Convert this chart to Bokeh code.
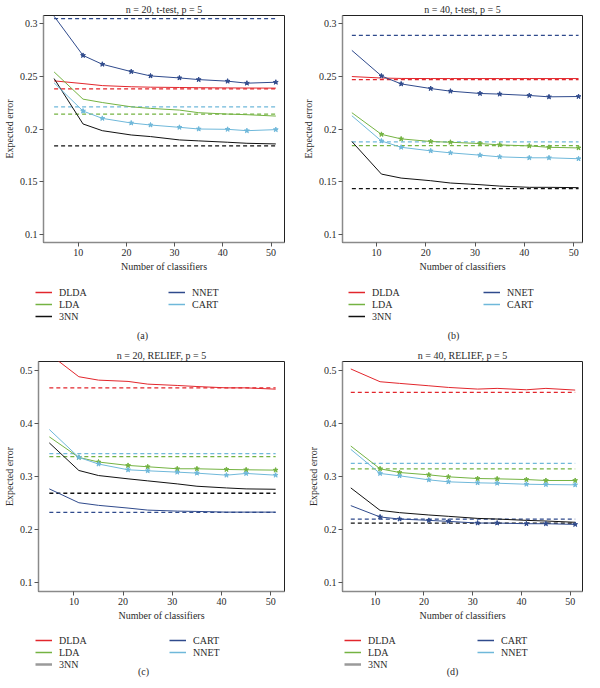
from bokeh.plotting import figure
from bokeh.models import Range1d, FixedTicker, Legend, LegendItem, Label
from bokeh.layouts import column, row
from bokeh.embed import file_html
from bokeh.resources import INLINE

# ---------------- data ----------------
X = [5, 11, 15, 21, 25, 31, 35, 41, 45, 51]

# panel (a): n = 20, t-test
A_DLDA = [0.2458, 0.2432, 0.2413, 0.2402, 0.2398, 0.2395, 0.2393, 0.2391, 0.2390, 0.2389]
A_LDA = [0.2543, 0.2284, 0.2252, 0.2211, 0.2196, 0.2180, 0.2155, 0.2142, 0.2136, 0.2123]
A_3NN = [0.2480, 0.2048, 0.1984, 0.1943, 0.1928, 0.1896, 0.1887, 0.1874, 0.1864, 0.1858]
A_NNET = [0.3073, 0.2700, 0.2616, 0.2546, 0.2505, 0.2486, 0.2470, 0.2455, 0.2436, 0.2445]
A_CART = [0.2439, 0.2171, 0.2101, 0.2057, 0.2038, 0.2016, 0.2000, 0.1997, 0.1984, 0.1994]
A_BASE = {"DLDA": 0.2382, "LDA": 0.2142, "3NN": 0.1840, "NNET": 0.3050, "CART": 0.2211}

# panel (b): n = 40, t-test
B_DLDA = [0.2499, 0.2485, 0.2481, 0.2480, 0.2480, 0.2480, 0.2480, 0.2480, 0.2480, 0.2480]
B_LDA = [0.2155, 0.1949, 0.1906, 0.1881, 0.1874, 0.1861, 0.1849, 0.1839, 0.1826, 0.1820]
B_3NN = [0.1881, 0.1571, 0.1533, 0.1508, 0.1486, 0.1470, 0.1457, 0.1445, 0.1445, 0.1442]
B_NNET = [0.2748, 0.2505, 0.2429, 0.2385, 0.2360, 0.2338, 0.2332, 0.2319, 0.2306, 0.2309]
B_CART = [0.2126, 0.1886, 0.1826, 0.1792, 0.1773, 0.1751, 0.1735, 0.1726, 0.1726, 0.1717]
B_BASE = {"DLDA": 0.2470, "LDA": 0.1842, "3NN": 0.1433, "NNET": 0.2890, "CART": 0.1877}

# panel (c): n = 20, RELIEF
C_DLDA = [0.5300, 0.4874, 0.4810, 0.4786, 0.4735, 0.4710, 0.4690, 0.4665, 0.4665, 0.4640]
C_LDA = [0.3745, 0.3359, 0.3272, 0.3208, 0.3183, 0.3145, 0.3145, 0.3132, 0.3126, 0.3120]
C_3NN = [0.3631, 0.3113, 0.3018, 0.2956, 0.2918, 0.2861, 0.2817, 0.2785, 0.2767, 0.2760]
C_CART = [0.2767, 0.2507, 0.2458, 0.2407, 0.2369, 0.2350, 0.2344, 0.2331, 0.2331, 0.2331]
C_NNET = [0.3883, 0.3359, 0.3234, 0.3126, 0.3107, 0.3082, 0.3063, 0.3025, 0.3057, 0.3025]
C_BASE = {"DLDA": 0.4665, "LDA": 0.3372, "3NN": 0.2685, "CART": 0.2325, "NNET": 0.3429}

# panel (d): n = 40, RELIEF
D_DLDA = [0.5020, 0.4780, 0.4749, 0.4704, 0.4673, 0.4642, 0.4655, 0.4629, 0.4655, 0.4623]
D_LDA = [0.3572, 0.3145, 0.3075, 0.3031, 0.2994, 0.2962, 0.2956, 0.2943, 0.2925, 0.2925]
D_3NN = [0.2786, 0.2364, 0.2321, 0.2277, 0.2252, 0.2213, 0.2201, 0.2176, 0.2164, 0.2140]
D_CART = [0.2453, 0.2240, 0.2201, 0.2176, 0.2157, 0.2126, 0.2126, 0.2113, 0.2113, 0.2100]
D_NNET = [0.3510, 0.3057, 0.3013, 0.2937, 0.2900, 0.2881, 0.2874, 0.2855, 0.2849, 0.2843]
D_BASE = {"DLDA": 0.4580, "LDA": 0.3145, "3NN": 0.2126, "CART": 0.2200, "NNET": 0.3245}

X_TICKS = [10, 20, 30, 40, 50]
Y_TICKS_T = [0.1, 0.15, 0.2, 0.25, 0.3]
Y_LABELS_T = ["0.1", "0.15", "0.2", "0.25", "0.3"]
Y_TICKS_R = [0.1, 0.2, 0.3, 0.4, 0.5]
Y_LABELS_R = ["0.1", "0.2", "0.3", "0.4", "0.5"]

TITLES = ["n = 20, t-test, p = 5", "n = 40, t-test, p = 5",
          "n = 20, RELIEF, p = 5", "n = 40, RELIEF, p = 5"]
TAGS = ["(a)", "(b)", "(c)", "(d)"]

# ---------------- style ----------------
FONT = "Liberation Serif"
TXT = "#2a2a2a"
RED = "#e2262c"
GREEN = "#74b342"
DBLUE = "#2f4a8c"
LBLUE = "#6fb8da"
BLACK = "#111111"
GRAY = "#9a9a9a"


def plot_panel(title, series, base, colors, markers, order, xr, yr,
               yticks, ylabels, height, left, right):
    p = figure(width=292, height=height, x_range=Range1d(*xr), y_range=Range1d(*yr),
               output_backend="svg", toolbar_location=None,
               min_border_left=left, min_border_right=right,
               min_border_top=0, min_border_bottom=0)
    p.background_fill_color = "white"
    p.border_fill_color = "white"
    p.outline_line_color = "#222222"
    p.outline_line_width = 1
    p.xgrid.visible = False
    p.ygrid.visible = False

    p.title.text = title
    p.title.align = "center"
    p.title.text_font = FONT
    p.title.text_font_size = "10px"
    p.title.text_font_style = "normal"
    p.title.text_color = TXT
    p.title.standoff = 2

    for ax in (p.xaxis[0], p.yaxis[0]):
        ax.axis_line_color = "#8a8a8a"
        ax.axis_line_width = 1.5
        ax.major_tick_line_color = "#555555"
        ax.major_tick_out = 4
        ax.major_tick_in = 0
        ax.minor_tick_line_color = None
        ax.major_label_text_font = FONT
        ax.major_label_text_font_size = "10px"
        ax.major_label_text_font_style = "normal"
        ax.major_label_text_color = TXT
        ax.axis_label_text_font = FONT
        ax.axis_label_text_font_size = "10px"
        ax.axis_label_text_font_style = "normal"
        ax.axis_label_text_color = TXT
        ax.major_label_standoff = 2
        ax.axis_label_standoff = 2

    p.xaxis.ticker = FixedTicker(ticks=X_TICKS)
    p.yaxis.ticker = FixedTicker(ticks=yticks)
    p.yaxis.major_label_overrides = {t: l for t, l in zip(yticks, ylabels)}
    p.xaxis.axis_label = "Number of classifiers"
    p.yaxis.axis_label = "Expected error"

    for name in order:
        p.line(X, [base[name]] * len(X), line_color=colors[name], line_width=1.3,
               line_dash="4 3")
    for name in order:
        p.line(X, series[name], line_color=colors[name], line_width=1)
        if name in markers:
            p.scatter(X[1:], series[name][1:], marker="star", size=5,
                      fill_color=colors[name], line_color=colors[name])
    return p


def legend_panel(tag, series, order, legend_colors, height, pos):
    col1_x, col2_x, leg_y, tag_x, tag_y = pos
    q = figure(width=292, height=height, x_range=Range1d(0, 1), y_range=Range1d(0, 1),
               output_backend="svg", toolbar_location=None,
               x_axis_type=None, y_axis_type=None, min_border=0,
               min_border_left=0, min_border_right=0, min_border_top=0,
               min_border_bottom=0)
    q.outline_line_color = None
    q.xgrid.visible = False
    q.ygrid.visible = False
    items = []
    for name in order:
        lw = 2.5 if legend_colors[name] == GRAY else 1.5
        # proxy line: the series itself, lying outside this panel's (0, 1) window
        r = q.line(X, series[name], line_color=legend_colors[name], line_width=lw)
        items.append(LegendItem(label=name, renderers=[r]))
    common = dict(label_text_font=FONT, label_text_font_size="10px",
                  label_text_color=TXT, label_height=12, glyph_height=12,
                  glyph_width=17, label_standoff=7, spacing=0, padding=0,
                  margin=0, border_line_color=None, background_fill_alpha=0,
                  orientation="vertical")
    q.add_layout(Legend(items=items[:3], location=(col1_x, leg_y), **common), "center")
    q.add_layout(Legend(items=items[3:], location=(col2_x, leg_y + 12), **common), "center")
    q.add_layout(Label(x=tag_x, y=tag_y, x_units="screen", y_units="screen", text=tag,
                       text_align="center", text_baseline="middle", text_font=FONT,
                       text_font_size="10px", text_color=TXT))
    return q


cols_t = {"DLDA": RED, "LDA": GREEN, "3NN": BLACK, "NNET": DBLUE, "CART": LBLUE}
cols_r = {"DLDA": RED, "LDA": GREEN, "3NN": BLACK, "CART": DBLUE, "NNET": LBLUE}
leg_t = dict(cols_t)
leg_r = dict(cols_r)
leg_r["3NN"] = GRAY
order_t = ["DLDA", "LDA", "3NN", "NNET", "CART"]
order_r = ["DLDA", "LDA", "3NN", "CART", "NNET"]

SA = {"DLDA": A_DLDA, "LDA": A_LDA, "3NN": A_3NN, "NNET": A_NNET, "CART": A_CART}
SB = {"DLDA": B_DLDA, "LDA": B_LDA, "3NN": B_3NN, "NNET": B_NNET, "CART": B_CART}
SC = {"DLDA": C_DLDA, "LDA": C_LDA, "3NN": C_3NN, "CART": C_CART, "NNET": C_NNET}
SD = {"DLDA": D_DLDA, "LDA": D_LDA, "3NN": D_3NN, "CART": D_CART, "NNET": D_NNET}

pa = plot_panel(TITLES[0], SA, A_BASE, cols_t, ["NNET", "CART"], order_t,
                (2.8, 52.8), (0.092, 0.308), Y_TICKS_T, Y_LABELS_T, 274, 38, 8)
pb = plot_panel(TITLES[1], SB, B_BASE, cols_t, ["NNET", "CART", "LDA"], order_t,
                (3.1, 51.8), (0.092, 0.308), Y_TICKS_T, Y_LABELS_T, 274, 50, 2)
pc = plot_panel(TITLES[2], SC, C_BASE, cols_r, ["NNET", "LDA"], order_r,
                (2.8, 52.8), (0.084, 0.516), Y_TICKS_R, Y_LABELS_R, 277, 38, 8)
pd_ = plot_panel(TITLES[3], SD, D_BASE, cols_r, ["NNET", "LDA", "CART"], order_r,
                 (3.3, 52.5), (0.084, 0.516), Y_TICKS_R, Y_LABELS_R, 277, 50, 2)

la = legend_panel(TAGS[0], SA, order_t, leg_t, 72, (35, 168, 24, 142, 11))
lb = legend_panel(TAGS[1], SB, order_t, leg_t, 72, (56, 191, 24, 161, 11))
lc = legend_panel(TAGS[2], SC, order_r, leg_r, 57, (35, 169, 10, 143, 9))
ld = legend_panel(TAGS[3], SD, order_r, leg_r, 57, (52, 185, 10, 160, 9))

layout = column(row(pa, pb), row(la, lb), row(pc, pd_), row(lc, ld))
open("out.html", "w").write(file_html(layout, INLINE))
